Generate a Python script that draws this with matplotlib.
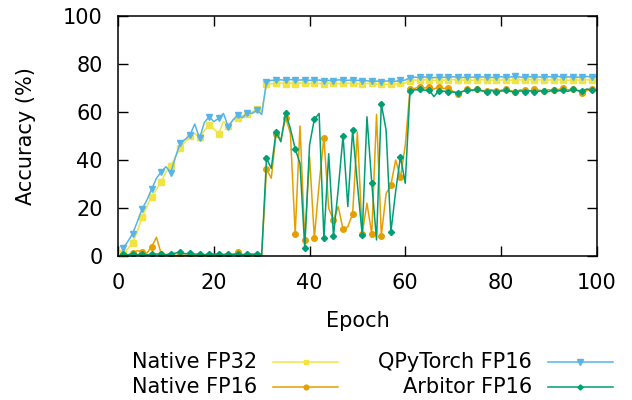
import numpy as np
import matplotlib
matplotlib.use("Agg")
import matplotlib.pyplot as plt
from matplotlib.lines import Line2D

# epochs 1..100
epochs = np.arange(1, 101)

native_fp32 = [
    1.1, 3.0, 5.6, 10.1, 16.4, 20.6, 24.7, 27.8, 31.0, 35.1,
    37.5, 41.4, 45.1, 47.6, 50.2, 51.1, 49.4, 52.2, 54.6, 53.0,
    51.0, 56.0, 54.3, 56.7, 57.4, 58.5, 59.0, 60.0, 61.2, 60.1,
    71.5, 71.8, 71.9, 72.1, 71.8, 72.0, 71.7, 72.1, 71.9, 71.8,
    72.0, 71.9, 71.7, 72.0, 72.1, 71.8, 72.0, 71.9, 72.1, 71.8,
    71.7, 71.9, 72.0, 71.6, 71.8, 71.5, 71.7, 71.6, 71.9, 72.0,
    73.1, 73.3, 73.2, 73.4, 73.3, 73.1, 73.4, 73.2, 73.3, 73.5,
    73.2, 73.3, 73.4, 73.2, 73.3, 73.5, 73.3, 73.2, 73.4, 73.3,
    73.5, 73.2, 73.3, 73.4, 73.2, 73.5, 73.3, 73.4, 73.2, 73.3,
    73.5, 73.4, 73.3, 73.2, 73.4, 73.3, 73.5, 73.4, 73.3, 73.4,
]

native_fp16 = [
    0.5, 0.3, 1.4, 2.2, 1.8, 1.2, 3.9, 7.8, 0.9, 0.4,
    0.5, 0.3, 0.4, 0.3, 0.5, 0.3, 0.4, 0.5, 0.4, 0.3,
    0.5, 0.4, 0.5, 0.6, 1.6, 0.5, 0.4, 0.5, 0.4, 0.5,
    36.2, 32.4, 50.8, 48.5, 57.6, 51.1, 9.2, 54.2, 6.7, 41.4,
    7.6, 30.0, 49.3, 19.9, 15.0, 20.6, 11.1, 12.2, 17.5, 51.6,
    9.2, 22.0, 9.2, 59.0, 8.5, 26.0, 29.6, 40.0, 32.8, 46.0,
    69.5, 69.8, 70.6, 70.0, 70.3, 69.5, 70.6, 69.8, 69.9, 68.6,
    67.5, 68.5, 69.4, 69.2, 69.5, 69.0, 68.8, 69.3, 68.6, 69.1,
    69.4, 68.9, 68.4, 69.2, 69.0, 68.7, 69.5, 69.1, 68.6, 69.3,
    69.0, 69.4, 69.8, 69.2, 69.6, 68.9, 67.8, 69.0, 69.5, 69.4,
]

qpytorch_fp16 = [
    3.2, 6.0, 9.2, 14.3, 19.6, 23.3, 27.9, 32.4, 35.1, 37.2,
    34.7, 41.4, 47.2, 48.6, 50.4, 55.0, 49.0, 55.6, 58.0, 56.0,
    57.4, 59.4, 53.9, 56.7, 58.7, 57.6, 59.7, 59.4, 60.8, 59.0,
    72.6, 73.2, 73.3, 73.4, 73.2, 73.5, 73.4, 73.3, 73.5, 73.2,
    73.4, 73.3, 73.1, 73.2, 73.0, 73.4, 73.3, 73.2, 73.4, 73.2,
    73.1, 73.0, 72.8, 72.9, 72.7, 72.9, 73.0, 72.8, 73.2, 73.3,
    74.3, 74.5, 74.4, 74.6, 74.5, 74.3, 74.6, 74.5, 74.4, 74.7,
    74.5, 74.4, 74.6, 74.5, 74.7, 74.6, 74.5, 74.4, 74.6, 74.7,
    74.5, 74.6, 74.8, 74.5, 74.6, 74.7, 74.5, 74.6, 74.4, 74.7,
    74.6, 74.8, 74.5, 74.6, 74.7, 74.5, 74.6, 74.8, 74.6, 74.7,
]

arbitor_fp16 = [
    0.8, 0.5, 0.8, 0.6, 0.8, 0.5, 0.7, 0.8, 0.7, 0.6,
    0.8, 1.2, 1.8, 0.9, 1.2, 0.8, 0.7, 0.6, 0.7, 0.8,
    0.7, 0.6, 0.8, 0.7, 0.8, 0.6, 0.7, 0.8, 0.7, 0.6,
    40.7, 36.5, 51.8, 47.6, 59.7, 53.0, 44.6, 38.6, 3.5, 46.3,
    57.0, 59.4, 7.4, 42.6, 8.3, 28.0, 50.1, 20.6, 52.5, 30.0,
    8.9, 58.0, 30.4, 6.7, 63.3, 52.5, 10.0, 27.0, 41.4, 30.3,
    68.9, 69.2, 69.4, 69.1, 69.2, 66.4, 68.9, 68.7, 68.5, 68.3,
    68.1, 68.6, 69.2, 69.0, 69.4, 68.8, 68.5, 68.9, 68.4, 68.7,
    69.0, 68.6, 68.2, 68.8, 68.5, 68.9, 68.4, 68.7, 68.9, 68.5,
    69.3, 68.8, 69.1, 68.6, 69.4, 69.0, 68.8, 69.6, 69.2, 69.0,
]

labels = ["Native FP32", "Native FP16", "QPyTorch FP16", "Arbitor FP16"]
series = [native_fp32, native_fp16, qpytorch_fp16, arbitor_fp16]
colors = ["#f0e442", "#e69f00", "#56b4e9", "#009e73"]
markers = ["s", "o", "v", "D"]
msizes = [4.2, 4.0, 5.0, 3.1]

plt.rcParams["font.family"] = "DejaVu Sans"
plt.rcParams["font.size"] = 15

fig = plt.figure(figsize=(6.32, 4.0), dpi=100)
ax = fig.add_axes([0.187, 0.36, 0.757, 0.60])

for lab, ys, c, m, ms in zip(labels, series, colors, markers, msizes):
    ax.plot(epochs, ys, color=c, lw=1.1, marker=m, ms=ms, mec=c, mfc=c,
            markevery=2, label=lab)

ax.set_xlim(0, 100)
ax.set_ylim(0, 100)
ax.set_xticks([0, 20, 40, 60, 80, 100])
ax.set_yticks([0, 20, 40, 60, 80, 100])
ax.tick_params(direction="in", length=7, width=1.0, top=True, right=True)
ax.tick_params(axis="x", pad=12)
ax.tick_params(axis="y", pad=11)
for s in ax.spines.values():
    s.set_linewidth(1.1)

ax.set_xlabel("Epoch")
ax.set_ylabel("Accuracy (%)")
ax.xaxis.set_label_coords(0.5, -0.23)
ax.yaxis.set_label_coords(-0.172, 0.5)

# legend in gnuplot style: right-aligned text, then line sample
text_right = [0.407, 0.407, 0.842, 0.842]
line_left = [0.432, 0.432, 0.867, 0.867]
row_y = [0.095, 0.033, 0.095, 0.033]
for i, lab in enumerate(labels):
    fig.text(text_right[i], row_y[i], lab, ha="right", va="center", fontsize=15)
    x0, x1 = line_left[i], line_left[i] + 0.103
    fig.add_artist(Line2D([x0, x1], [row_y[i], row_y[i]], transform=fig.transFigure,
                          color=colors[i], lw=1.1))
    fig.add_artist(Line2D([(x0 + x1) / 2], [row_y[i]], transform=fig.transFigure,
                          color=colors[i], marker=markers[i], ms=msizes[i] * 0.85,
                          mec=colors[i], mfc=colors[i], lw=0))

fig.savefig("out.png", dpi=100)
